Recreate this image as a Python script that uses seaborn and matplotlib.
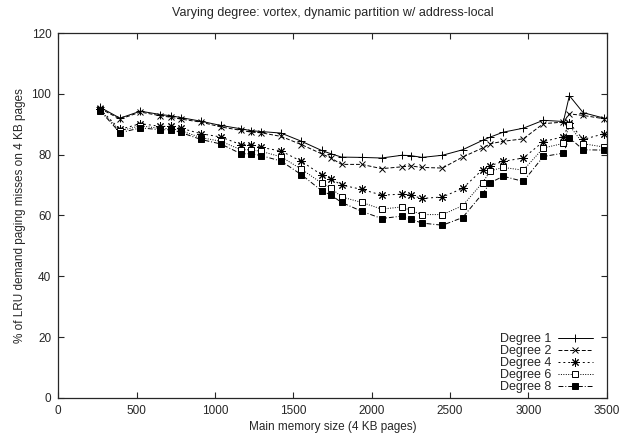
import pandas as pd
import matplotlib
matplotlib.use('Agg')
import matplotlib.pyplot as plt
import seaborn as sns

# memory sizes (4 KB pages)
mem_size = [266, 394, 524, 652, 718, 782, 910, 1038, 1166, 1230, 1294, 1422,
            1552, 1680, 1740, 1808, 1936, 2064, 2192, 2248, 2322, 2452, 2580,
            2708, 2758, 2840, 2968, 3096, 3224, 3262, 3350, 3484]

degree_1 = [95.6, 92.0, 94.3, 93.2, 92.8, 92.2, 91.0, 89.6, 88.5, 87.9, 87.6, 87.1,
            84.4, 81.4, 80.3, 79.2, 79.1, 78.9, 79.8, 79.7, 79.1, 79.8, 81.6,
            84.7, 85.8, 87.4, 88.7, 91.3, 90.9, 99.4, 93.8, 92.0]
degree_2 = [95.2, 91.7, 94.0, 92.8, 92.3, 91.7, 90.7, 89.1, 88.0, 87.4, 87.2, 86.0,
            83.3, 80.3, 78.9, 76.8, 76.8, 75.4, 76.0, 76.3, 75.8, 75.6, 79.2,
            82.2, 83.6, 84.4, 85.2, 90.2, 90.7, 93.4, 92.9, 91.8]
degree_4 = [95.0, 88.3, 90.2, 89.3, 89.3, 88.7, 86.9, 85.8, 83.3, 83.3, 82.4, 81.2,
            77.8, 73.4, 72.1, 70.0, 68.6, 66.7, 67.0, 66.7, 65.6, 66.1, 68.9,
            75.1, 76.4, 77.8, 78.9, 84.3, 85.9, 90.4, 85.0, 86.9]
degree_6 = [94.7, 87.8, 89.5, 88.6, 88.6, 87.9, 85.6, 84.4, 81.6, 81.6, 81.1, 79.3,
            75.2, 70.7, 69.1, 66.1, 64.3, 62.1, 62.8, 61.7, 60.3, 60.3, 63.2,
            70.8, 74.7, 75.8, 74.9, 82.2, 83.7, 89.6, 83.6, 82.5]
degree_8 = [94.5, 87.2, 88.8, 88.2, 88.2, 87.3, 85.0, 83.5, 80.3, 80.3, 79.7, 77.9,
            73.4, 68.2, 66.7, 64.3, 61.4, 59.0, 59.8, 58.8, 57.5, 56.8, 59.3,
            67.2, 70.8, 72.9, 71.2, 79.4, 80.5, 85.6, 81.6, 81.5]

labels = ['Degree 1', 'Degree 2', 'Degree 4', 'Degree 6', 'Degree 8']
series = [degree_1, degree_2, degree_4, degree_6, degree_8]

sns.set_style('ticks')
plt.rcParams['font.family'] = ['Liberation Sans', 'DejaVu Sans']
plt.rcParams['xtick.direction'] = 'in'
plt.rcParams['ytick.direction'] = 'in'
plt.rcParams['xtick.top'] = True
plt.rcParams['ytick.right'] = True

# gnuplot-like line types
styles = [
    dict(ls='-', marker='+', ms=6, mfc='k'),
    dict(ls=(0, (4, 2)), marker='x', ms=4.5, mfc='k'),
    dict(ls=(0, (2, 3)), marker=(8, 2, 0), ms=6, mfc='k'),
    dict(ls=(0, (1, 1.5)), marker='s', ms=4.5, mfc='white'),
    dict(ls=(0, (5, 2, 1, 2)), marker='s', ms=4.5, mfc='k'),
]

fig, ax = plt.subplots(figsize=(6.2, 4.4), dpi=100)
fig.subplots_adjust(left=0.094, right=0.9785, top=0.925, bottom=0.0955)

for lab, vals, st in zip(labels, series, styles):
    df = pd.DataFrame({'mem': mem_size, 'pct': vals})
    sns.lineplot(data=df, x='mem', y='pct', ax=ax, color='black', linewidth=0.7,
                 linestyle=st['ls'], marker=st['marker'], markersize=st['ms'],
                 markerfacecolor=st['mfc'], markeredgecolor='black',
                 markeredgewidth=0.7, label=lab, sort=False, estimator=None)

ax.set_xlim(0, 3500)
ax.set_ylim(0, 120)
ax.set_xticks(range(0, 3501, 500))
ax.set_yticks(range(0, 121, 20))
ax.tick_params(labelsize=8.5, length=4, width=0.8, pad=5)
for s in ax.spines.values():
    s.set_linewidth(0.9)

ax.set_xlabel('Main memory size (4 KB pages)', fontsize=8.5, labelpad=3)
ax.set_ylabel('% of LRU demand paging misses on 4 KB pages', fontsize=8.5, labelpad=4)
ax.set_title('Varying degree: vortex, dynamic partition w/ address-local', fontsize=9, pad=12)

ax.legend(loc='lower right', bbox_to_anchor=(0.984, 0.0), frameon=False,
          markerfirst=False, fontsize=9, handlelength=2.8, handletextpad=0.5,
          labelspacing=0.0, borderaxespad=0.2, borderpad=0.2)

fig.savefig('out.png', dpi=100)
